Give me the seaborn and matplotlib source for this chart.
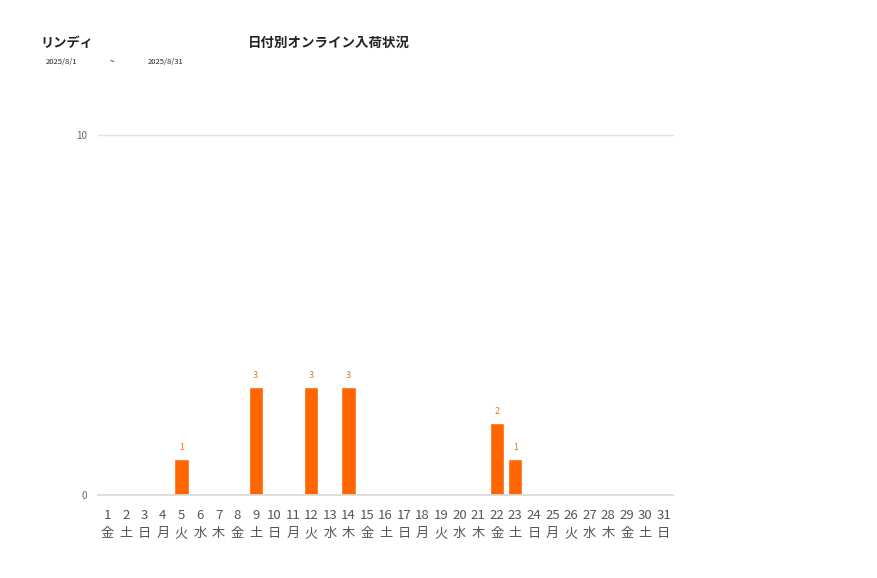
import matplotlib
matplotlib.use("Agg")
import matplotlib.pyplot as plt
import pandas as pd
import seaborn as sns

DAYS = [str(d) for d in range(1, 32)]
WEEKDAYS = ["金", "土", "日", "月", "火", "水", "木"] * 5
WEEKDAYS = WEEKDAYS[:31]
COUNTS = [0, 0, 0, 0, 1, 0, 0, 0, 3, 0, 0, 3, 0, 3, 0,
          0, 0, 0, 0, 0, 0, 2, 1, 0, 0, 0, 0, 0, 0, 0, 0]
Y_TICKS = [0, 10]

BAR_COLOR = "#FF6600"

sns.set_theme(style="white")
plt.rcParams["font.family"] = ["Noto Sans CJK JP", "DejaVu Sans"]

df = pd.DataFrame({"day": DAYS, "count": COUNTS})

fig = plt.figure(figsize=(8.77, 5.78), dpi=100)
ax = fig.add_axes([98 / 877, 1 - 495 / 578, 575 / 877, 360 / 578])

sns.barplot(data=df, x="day", y="count", color=BAR_COLOR, width=0.77,
            saturation=1, ax=ax)

ax.set_ylim(0, 10)
ax.set_xlim(-0.5, 30.5)
ax.set_yticks(Y_TICKS)
ax.set_yticklabels([str(t) for t in Y_TICKS], fontsize=7, color="#666666")
ax.set_xticks(range(len(DAYS)))
ax.set_xticklabels([f"{d}\n{w}" for d, w in zip(DAYS, WEEKDAYS)],
                   fontsize=9.5, color="#555555", linespacing=1.5)
ax.tick_params(axis="x", length=0, pad=10)
ax.tick_params(axis="y", length=0, pad=8)
ax.set_xlabel("")
ax.set_ylabel("")
for s in ["top", "right", "left"]:
    ax.spines[s].set_visible(False)
ax.spines["bottom"].set_color("#d9d9d9")
ax.axhline(10, color="#e0e0e0", lw=1, clip_on=False)

for i, v in enumerate(COUNTS):
    if v > 0:
        ax.annotate(str(v), (i, v), xytext=(0, 5), textcoords="offset points",
                    ha="center", va="bottom", fontsize=6.5, color="#E8751A")

fig.text(40 / 877, 1 - 43 / 578, "リンディ", fontsize=9.5, fontweight="bold",
         va="center", ha="left", color="#222222")
fig.text(248 / 877, 1 - 43 / 578, "日付別オンライン入荷状況", fontsize=9.7,
         fontweight="bold", va="center", ha="left", color="#222222")
fig.text(46 / 877, 1 - 62 / 578, "2025/8/1", fontsize=5.5, va="center", ha="left")
fig.text(110 / 877, 1 - 62 / 578, "~", fontsize=6, va="center", ha="left")
fig.text(148 / 877, 1 - 62 / 578, "2025/8/31", fontsize=5.5, va="center", ha="left")

fig.savefig("out.png", dpi=100)
